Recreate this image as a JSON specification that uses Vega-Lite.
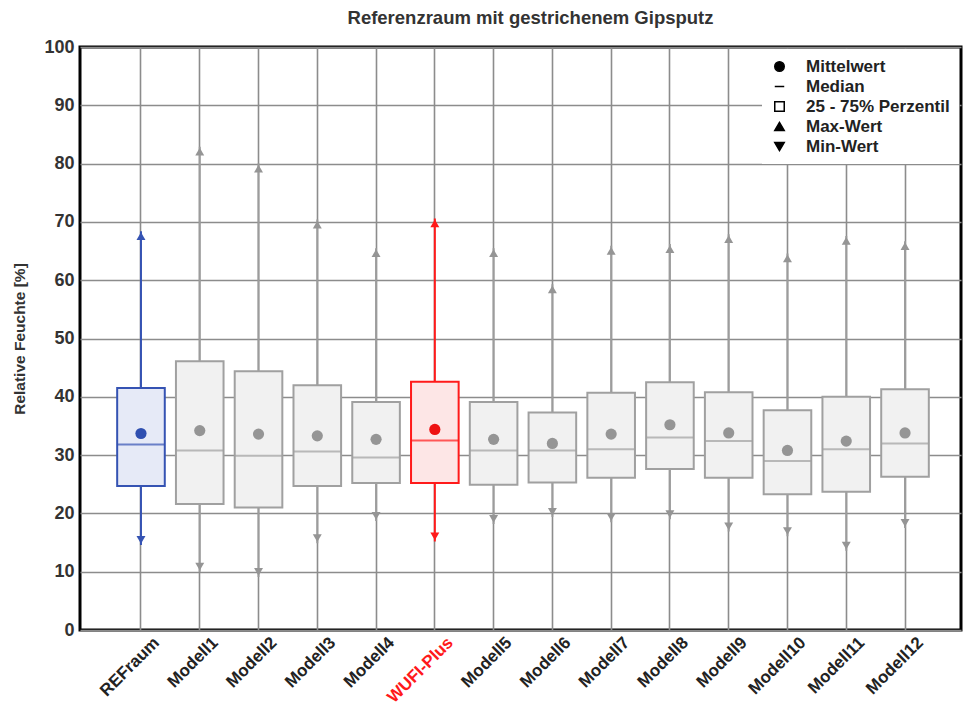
{
  "$schema": "https://vega.github.io/schema/vega-lite/v6.json",
  "width": 881,
  "height": 583,
  "autosize": "none",
  "padding": {"left": 80, "top": 47, "right": 3, "bottom": 83},
  "background": "white",
  "config": {
    "view": {"stroke": "black", "strokeWidth": 3},
    "font": "Liberation Sans"
  },
  "title": {
    "text": "Referenzraum mit gestrichenem Gipsputz",
    "fontSize": 18.5,
    "fontWeight": "bold",
    "color": "#333333",
    "offset": 11,
    "dx": 10
  },
  "data": {
    "values": [
      {"name": "REFraum", "grp": "ref", "q1": 24.7, "q3": 41.5, "median": 31.8, "mean": 33.7, "min": 14.6, "max": 68.4},
      {"name": "Modell1", "grp": "other", "q1": 21.6, "q3": 46.1, "median": 30.8, "mean": 34.2, "min": 10.0, "max": 82.9},
      {"name": "Modell2", "grp": "other", "q1": 21.0, "q3": 44.4, "median": 29.9, "mean": 33.6, "min": 9.1, "max": 80.0},
      {"name": "Modell3", "grp": "other", "q1": 24.7, "q3": 42.0, "median": 30.6, "mean": 33.3, "min": 14.9, "max": 70.4},
      {"name": "Modell4", "grp": "other", "q1": 25.2, "q3": 39.1, "median": 29.6, "mean": 32.7, "min": 18.7, "max": 65.5},
      {"name": "WUFI-Plus", "grp": "wufi", "q1": 25.2, "q3": 42.6, "median": 32.5, "mean": 34.4, "min": 15.2, "max": 70.6},
      {"name": "Modell5", "grp": "other", "q1": 24.9, "q3": 39.1, "median": 30.8, "mean": 32.7, "min": 18.2, "max": 65.5},
      {"name": "Modell6", "grp": "other", "q1": 25.3, "q3": 37.3, "median": 30.8, "mean": 32.0, "min": 19.4, "max": 59.3},
      {"name": "Modell7", "grp": "other", "q1": 26.1, "q3": 40.7, "median": 31.0, "mean": 33.6, "min": 18.5, "max": 65.9},
      {"name": "Modell8", "grp": "other", "q1": 27.6, "q3": 42.5, "median": 33.0, "mean": 35.2, "min": 19.0, "max": 66.2},
      {"name": "Modell9", "grp": "other", "q1": 26.1, "q3": 40.8, "median": 32.4, "mean": 33.8, "min": 16.9, "max": 67.9},
      {"name": "Modell10", "grp": "other", "q1": 23.3, "q3": 37.7, "median": 29.0, "mean": 30.8, "min": 16.1, "max": 64.6},
      {"name": "Modell11", "grp": "other", "q1": 23.7, "q3": 40.0, "median": 31.0, "mean": 32.4, "min": 13.6, "max": 67.6},
      {"name": "Modell12", "grp": "other", "q1": 26.3, "q3": 41.3, "median": 32.0, "mean": 33.8, "min": 17.5, "max": 66.7}
    ]
  },
  "encoding": {
    "x": {
      "field": "name",
      "type": "nominal",
      "sort": null,
      "scale": {
        "type": "band",
        "domain": ["REFraum", "Modell1", "Modell2", "Modell3", "Modell4", "WUFI-Plus", "Modell5", "Modell6", "Modell7", "Modell8", "Modell9", "Modell10", "Modell11", "Modell12"],
        "paddingInner": 0.19,
        "paddingOuter": 0.59,
        "align": 0.536
      },
      "axis": {
        "title": null,
        "labelAngle": -45,
        "labelFontSize": 17,
        "labelFontWeight": "bold",
        "labelColor": {"condition": {"test": "datum.value == 'WUFI-Plus'", "value": "#ff1a1a"}, "value": "#222222"},
        "labelPadding": 4,
        "labelOffset": 10,
        "ticks": false,
        "domain": false,
        "grid": true,
        "gridColor": "#8c8c8c",
        "gridWidth": 1.6,
        "bandPosition": 0.5
      }
    }
  },
  "layer": [
    {
      "mark": {"type": "rule", "strokeWidth": 2},
      "encoding": {
        "y": {
          "field": "min",
          "type": "quantitative",
          "scale": {"domain": [0, 100], "nice": false},
          "axis": {
            "title": "Relative Feuchte [%]",
            "titleFontSize": 15.5,
            "titleFontWeight": "bold",
            "titleColor": "#333333",
            "titlePadding": 16,
            "values": [0, 10, 20, 30, 40, 50, 60, 70, 80, 90, 100],
            "labelFontSize": 18,
            "labelFontWeight": "bold",
            "labelColor": "#333333",
            "labelPadding": 6,
            "ticks": false,
            "domain": false,
            "grid": true,
            "gridColor": "#8c8c8c",
            "gridWidth": 1.6
          }
        },
        "y2": {"field": "max"},
        "stroke": {
          "condition": [
            {"test": "datum.grp == 'ref'", "value": "#3553b3"},
            {"test": "datum.grp == 'wufi'", "value": "#ff1a1a"}
          ],
          "value": "#9c9c9c"
        }
      }
    },
    {
      "mark": {"type": "bar", "strokeWidth": 2},
      "encoding": {
        "y": {"field": "q1", "type": "quantitative"},
        "y2": {"field": "q3"},
        "fill": {
          "condition": [
            {"test": "datum.grp == 'ref'", "value": "#e6eaf7"},
            {"test": "datum.grp == 'wufi'", "value": "#fde6e6"}
          ],
          "value": "#f1f1f1"
        },
        "stroke": {
          "condition": [
            {"test": "datum.grp == 'ref'", "value": "#3553b3"},
            {"test": "datum.grp == 'wufi'", "value": "#ff1a1a"}
          ],
          "value": "#a0a0a0"
        }
      }
    },
    {
      "mark": {"type": "tick", "thickness": 2, "size": 48},
      "encoding": {
        "y": {"field": "median", "type": "quantitative"},
        "color": {
          "condition": [
            {"test": "datum.grp == 'ref'", "value": "#3553b3"},
            {"test": "datum.grp == 'wufi'", "value": "#ff1a1a"}
          ],
          "value": "#a0a0a0"
        }
      }
    },
    {
      "mark": {"type": "point", "filled": true, "opacity": 1, "size": 125, "shape": "circle"},
      "encoding": {
        "y": {"field": "mean", "type": "quantitative"},
        "color": {
          "condition": [
            {"test": "datum.grp == 'ref'", "value": "#2f4fb0"},
            {"test": "datum.grp == 'wufi'", "value": "#ee1111"}
          ],
          "value": "#959595"
        }
      }
    },
    {
      "mark": {"type": "point", "filled": true, "opacity": 1, "size": 80, "shape": "triangle-up", "yOffset": 5},
      "encoding": {
        "y": {"field": "max", "type": "quantitative"},
        "color": {
          "condition": [
            {"test": "datum.grp == 'ref'", "value": "#3553b3"},
            {"test": "datum.grp == 'wufi'", "value": "#ff1a1a"}
          ],
          "value": "#959595"
        }
      }
    },
    {
      "mark": {"type": "point", "filled": true, "opacity": 1, "size": 80, "shape": "triangle-down", "yOffset": -5},
      "encoding": {
        "y": {"field": "min", "type": "quantitative"},
        "color": {
          "condition": [
            {"test": "datum.grp == 'ref'", "value": "#3553b3"},
            {"test": "datum.grp == 'wufi'", "value": "#ff1a1a"}
          ],
          "value": "#959595"
        }
      }
    },
    {
      "data": {
        "values": [
          {"label": "Mittelwert"},
          {"label": "Median"},
          {"label": "25 - 75% Perzentil"},
          {"label": "Max-Wert"},
          {"label": "Min-Wert"}
        ]
      },
      "mark": {"type": "point", "filled": true, "opacity": 0, "strokeWidth": 1.5},
      "encoding": {
        "shape": {
          "field": "label",
          "type": "nominal",
          "scale": {
            "domain": ["Mittelwert", "Median", "25 - 75% Perzentil", "Max-Wert", "Min-Wert"],
            "range": ["circle", "stroke", "square", "triangle-up", "triangle-down"]
          },
          "legend": {
            "title": null,
            "orient": "top-right",
            "offset": 2,
            "fillColor": "white",
            "padding": 9,
            "rowPadding": 2,
            "labelFont": "Liberation Sans",
            "labelFontSize": 17,
            "labelFontWeight": "bold",
            "labelColor": "#222222",
            "labelOffset": 18,
            "symbolSize": 90,
            "symbolOpacity": 1
          }
        },
        "fill": {
          "field": "label",
          "type": "nominal",
          "scale": {
            "domain": ["Mittelwert", "Median", "25 - 75% Perzentil", "Max-Wert", "Min-Wert"],
            "range": ["black", "black", "white", "black", "black"]
          },
          "legend": {
            "title": null,
            "orient": "top-right",
            "offset": 2,
            "fillColor": "white",
            "padding": 9,
            "rowPadding": 2,
            "labelFont": "Liberation Sans",
            "labelFontSize": 17,
            "labelFontWeight": "bold",
            "labelColor": "#222222",
            "labelOffset": 18,
            "symbolSize": 90,
            "symbolOpacity": 1
          }
        },
        "stroke": {
          "field": "label",
          "type": "nominal",
          "scale": {
            "domain": ["Mittelwert", "Median", "25 - 75% Perzentil", "Max-Wert", "Min-Wert"],
            "range": ["black", "black", "black", "black", "black"]
          },
          "legend": {
            "title": null,
            "orient": "top-right",
            "offset": 2,
            "fillColor": "white",
            "padding": 9,
            "rowPadding": 2,
            "labelFont": "Liberation Sans",
            "labelFontSize": 17,
            "labelFontWeight": "bold",
            "labelColor": "#222222",
            "labelOffset": 18,
            "symbolSize": 90,
            "symbolOpacity": 1
          }
        }
      }
    }
  ]
}
